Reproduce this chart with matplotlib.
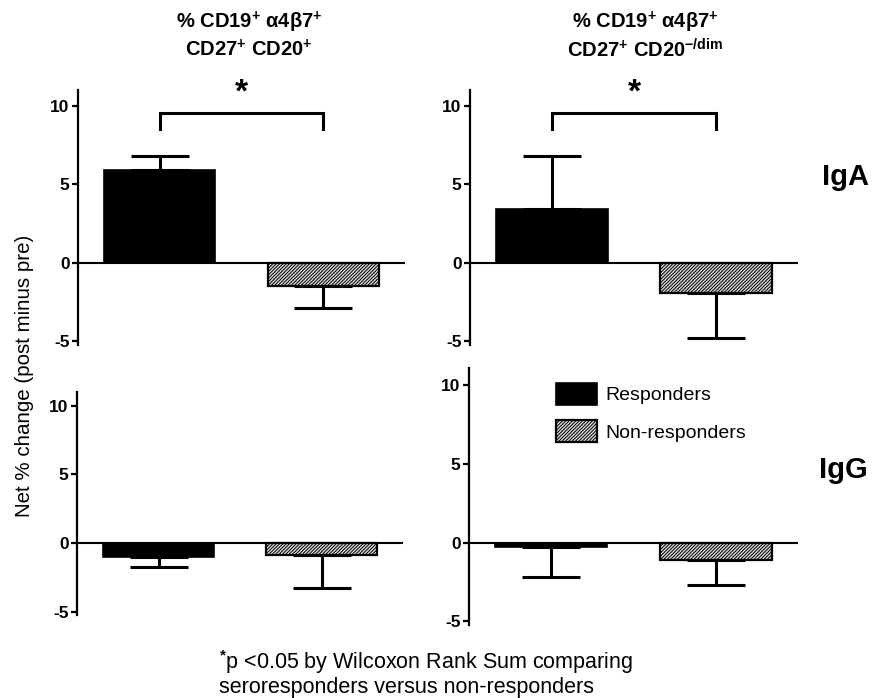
import matplotlib
matplotlib.use("Agg")
import matplotlib.pyplot as plt
import numpy as np

plt.rcParams['font.family'] = ['Liberation Sans', 'DejaVu Sans']
plt.rcParams['mathtext.fontset'] = 'custom'
plt.rcParams['mathtext.rm'] = 'Liberation Sans:bold'
plt.rcParams['mathtext.it'] = 'Liberation Sans:bold'
plt.rcParams['mathtext.bf'] = 'Liberation Sans:bold'
plt.rcParams['hatch.linewidth'] = 0.7
plt.rcParams['axes.unicode_minus'] = False

# groups on the x axis
groups = ['Responders', 'Non-responders']

# mean net % change and one-sided error (sem), per panel
iga_cd20pos = [5.9, -1.5]
iga_cd20pos_err = [0.9, 1.4]
iga_cd20dim = [3.4, -1.9]
iga_cd20dim_err = [3.4, 2.9]
igg_cd20pos = [-1.0, -0.9]
igg_cd20pos_err = [0.75, 2.4]
igg_cd20dim = [-0.3, -1.1]
igg_cd20dim_err = [1.9, 1.6]

yticks = [-5, 0, 5, 10]
W, H = 873, 698


def px_axes(fig, x0, x1, y_top, y_bot):
    return fig.add_axes([x0 / W, 1 - y_bot / H, (x1 - x0) / W, (y_bot - y_top) / H])


def draw_panel(ax, vals, errs, ylim, sig=False):
    x = np.arange(len(vals))
    ax.axhline(0, color='black', lw=1.5, zorder=1)
    ax.bar(x[0], vals[0], width=0.68, color='black', edgecolor='black', lw=1.2, zorder=2,
           label=groups[0])
    ax.bar(x[1], vals[1], width=0.68, color='#d8d8d8', edgecolor='black', hatch='//////////',
           lw=1.6, zorder=2, label=groups[1])
    for xi, v, e in zip(x, vals, errs):
        yerr = [[0], [e]] if v >= 0 else [[e], [0]]
        ax.errorbar(xi, v, yerr=yerr, fmt='none', ecolor='black', elinewidth=2.2,
                    capsize=21, capthick=2.2, zorder=3)
    ax.set_xlim(-0.5, 1.5)
    ax.set_ylim(*ylim)
    ax.set_yticks(yticks)
    ax.set_xticks([])
    for s in ['top', 'right', 'bottom']:
        ax.spines[s].set_visible(False)
    ax.spines['left'].set_linewidth(1.6)
    ax.tick_params(axis='y', length=4, width=1.6, pad=2, labelsize=12.5)
    for lbl in ax.get_yticklabels():
        lbl.set_fontweight('bold')
    if sig:
        ax.plot([0, 0, 1, 1], [8.5, 9.55, 9.55, 8.5], color='black', lw=2.2,
                clip_on=False, solid_joinstyle='miter')
        ax.text(0.5, 10.8, '*', fontsize=24, fontweight='bold', ha='center',
                va='center', clip_on=False)


fig = plt.figure(figsize=(8.73, 6.98), dpi=100)

ax1 = px_axes(fig, 78, 405, 90, 344.6)
draw_panel(ax1, iga_cd20pos, iga_cd20pos_err, (-5.2, 11.0), sig=True)
ax2 = px_axes(fig, 470, 798, 90, 344.6)
draw_panel(ax2, iga_cd20dim, iga_cd20dim_err, (-5.2, 11.0), sig=True)
ax3 = px_axes(fig, 77, 403, 392, 614.5)
draw_panel(ax3, igg_cd20pos, igg_cd20pos_err, (-5.2, 11.0))
ax4 = px_axes(fig, 469, 798, 368, 624.6)
draw_panel(ax4, igg_cd20dim, igg_cd20dim_err, (-5.2, 11.1))

ax4.legend(loc='upper left', bbox_to_anchor=(556 / W, 1 - 383 / H),
           bbox_transform=fig.transFigure, frameon=False, fontsize=14,
           handlelength=2.1, handleheight=1.35, labelspacing=0.8,
           handletextpad=0.45, borderpad=0, borderaxespad=0)

# column titles
fig.text(249 / W, 1 - 22 / H, '% CD19$^{+}$ α4β7$^{+}$', ha='center', va='center',
         fontsize=14.5, fontweight='bold')
fig.text(249 / W, 1 - 50 / H, 'CD27$^{+}$ CD20$^{+}$', ha='center', va='center',
         fontsize=14.5, fontweight='bold')
fig.text(645 / W, 1 - 22 / H, '% CD19$^{+}$ α4β7$^{+}$', ha='center', va='center',
         fontsize=14.5, fontweight='bold')
fig.text(645 / W, 1 - 50 / H, 'CD27$^{+}$ CD20$^{-/dim}$', ha='center', va='center',
         fontsize=14.5, fontweight='bold')

# row labels
fig.text(845 / W, 1 - 177 / H, 'IgA', ha='center', va='center', fontsize=21, fontweight='bold')
fig.text(843 / W, 1 - 470 / H, 'IgG', ha='center', va='center', fontsize=21, fontweight='bold')

fig.text(25 / W, 1 - 376 / H, 'Net % change (post minus pre)', rotation=90,
         ha='center', va='center', fontsize=14.8)

fig.text(219 / W, 1 - 662 / H, '$^{*}$p <0.05 by Wilcoxon Rank Sum comparing',
         ha='left', va='center', fontsize=15.5)
fig.text(219 / W, 1 - 688 / H, 'seroresponders versus non-responders',
         ha='left', va='center', fontsize=15.5)

fig.savefig('out.png', dpi=100)
